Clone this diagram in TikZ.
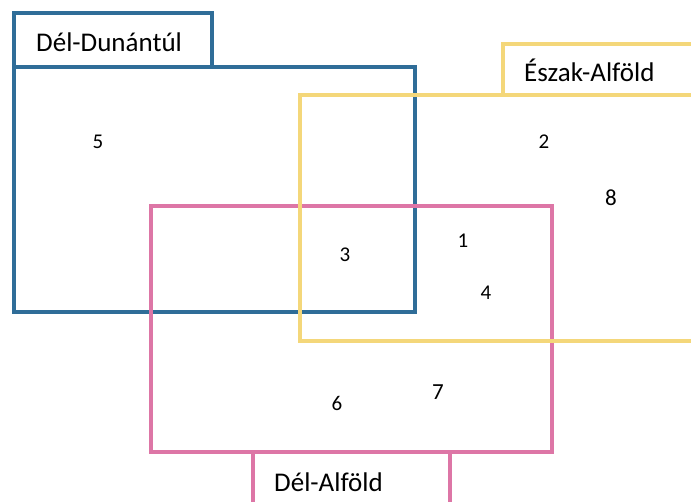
\documentclass[tikz,border=0pt]{standalone}
\usepackage{fontspec}
\setmainfont{Carlito}
\definecolor{colordd}{HTML}{2F6D98}
\definecolor{colorea}{HTML}{F4D77A}
\definecolor{colorda}{HTML}{DD76A6}
\tikzset{region/.style={draw, line width=4pt, minimum width=401pt, minimum height=245pt, inner sep=0pt}}
\tikzset{tabbox/.style={draw, line width=4pt, inner sep=0pt, minimum width=198pt}}
\tikzset{
  title/.style={font=\fontsize{27}{32}\selectfont, inner sep=0pt, anchor=base west},
  num/.style={font=\fontsize{21}{25}\selectfont, inner sep=0pt}
}

\begin{document}
\begin{tikzpicture}[x=1pt, y=-1pt]
\clip (0,0) rectangle (691,502);
\fill[white] (0,0) rectangle (691,502);
% regions
\node[region, draw=colordd] (dd) at (214.5,189.5) {};
\node[tabbox, draw=colordd, minimum height=54pt] (ddtab) at (113,40) {};
\node[region, draw=colorda, minimum height=246pt] (da) at (351.5,329) {};
\node[tabbox, draw=colorda, minimum width=197pt, minimum height=54pt] (datab) at (351.5,479) {};
\node[region, draw=colorea, minimum height=246pt] (ea) at (500.5,218) {};
\node[tabbox, draw=colorea, minimum height=51pt] (eatab) at (602,69.5) {};
% titles
\node[title] (ddname) at (36,52) {Dél-Dunántúl};
\node[title] (eaname) at (524,82) {Észak-Alföld};
\node[title] (daname) at (274,491) {Dél-Alföld};
% numbers
\node[num] (n5) at (98,142) {5};
\node[num] (n2) at (544,142) {2};
\node[num, font=\fontsize{23}{27}\selectfont] (n8) at (611,198) {8};
\node[num] (n1) at (463,241) {1};
\node[num] (n3) at (345,255) {3};
\node[num] (n4) at (486,293) {4};
\node[num, font=\fontsize{23}{27}\selectfont] (n7) at (438,392) {7};
\node[num] (n6) at (337,403) {6};
\end{tikzpicture}
\end{document}
